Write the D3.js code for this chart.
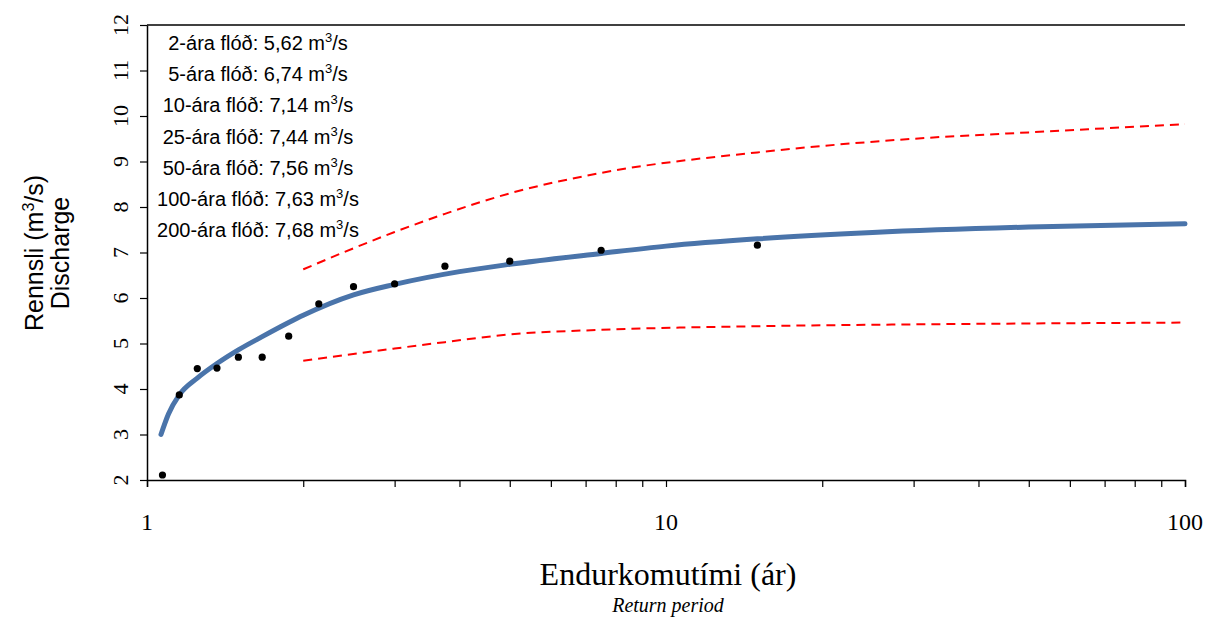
<!DOCTYPE html>
<html><head><meta charset="utf-8">
<script src="https://cdn.jsdelivr.net/npm/d3@7"></script>
<style>body{margin:0;background:#fff}</style>
</head><body><svg id="c" width="1207" height="617"></svg>
<script>
// observed floods: return period (yr) and discharge (m3/s)
const obsT = [1.071, 1.154, 1.25, 1.364, 1.5, 1.667, 1.875, 2.143, 2.5, 3, 3.75, 5, 7.5, 15];
const obsQ = [2.11, 3.87, 4.45, 4.46, 4.70, 4.70, 5.16, 5.87, 6.25, 6.31, 6.70, 6.81, 7.05, 7.16];
// fitted curve
const fitT = [1.064, 1.1, 1.154, 1.25, 1.364, 1.5, 1.667, 1.875, 2, 2.5, 3, 4, 5, 7.5, 10, 15, 25, 50, 100];
const fitQ = [3.0, 3.45, 3.87, 4.24, 4.56, 4.86, 5.15, 5.46, 5.62, 6.07, 6.3, 6.58, 6.74, 6.98, 7.14, 7.3, 7.44, 7.56, 7.63];
// confidence bounds
const bandT = [2, 3, 3.75, 5, 7.5, 15, 30, 50, 100];
const upperQ = [6.63, 7.45, 7.85, 8.3, 8.75, 9.2, 9.5, 9.64, 9.82];
const lowerQ = [4.62, 4.89, 5.03, 5.2, 5.3, 5.38, 5.42, 5.44, 5.46];
const yTicks = [2, 3, 4, 5, 6, 7, 8, 9, 10, 11, 12];
const labels = ["2-ára flóð: 5,62", "5-ára flóð: 6,74", "10-ára flóð: 7,14", "25-ára flóð: 7,44",
  "50-ára flóð: 7,56", "100-ára flóð: 7,63", "200-ára flóð: 7,68"];

const svg = d3.select("#c");
const x = d3.scaleLog().domain([1, 100]).range([147, 1185]);
const y = d3.scaleLinear().domain([2, 12]).range([480, 25]);
const serif = "'Liberation Serif','Times New Roman',serif";
const sans = "'Liberation Sans',Arial,sans-serif";

// x axis
const minor = [];
[1, 10].forEach(b => { for (let i = 1; i < 10; i++) minor.push(b * i); });
minor.push(100);
svg.append("g").attr("transform", "translate(0,480)")
  .call(d3.axisBottom(x).tickValues(minor).tickSize(7).tickFormat(""))
  .call(g => g.select(".domain").attr("stroke-width", 1.5))
  .call(g => g.selectAll(".tick line").attr("stroke-width", 1.2));
svg.append("g").selectAll("text").data([1, 10, 100]).enter().append("text")
  .attr("x", d => x(d)).attr("y", 530).attr("text-anchor", "middle")
  .attr("font-family", serif).attr("font-size", 24).text(d => d);

// y axis
svg.append("g").attr("transform", "translate(147,0)")
  .call(d3.axisLeft(y).tickValues(yTicks).tickSize(7).tickSizeOuter(0).tickFormat(""))
  .call(g => g.select(".domain").attr("stroke-width", 1.5))
  .call(g => g.selectAll(".tick line").attr("stroke-width", 1.2));
svg.append("g").selectAll("text").data(yTicks).enter().append("text")
  .attr("transform", d => `translate(128,${y(d)}) rotate(-90)`)
  .attr("text-anchor", "middle").attr("font-family", serif).attr("font-size", 22)
  .text(d => d);

// top border
svg.append("line").attr("x1", 147).attr("x2", 1185).attr("y1", 25).attr("y2", 25)
  .attr("stroke", "#000").attr("stroke-width", 1.5);

const line = (T, Q) => d3.line().x((d, i) => x(T[i])).y(d => y(d)).curve(d3.curveMonotoneX)(Q);
svg.append("path").attr("d", line(bandT, upperQ)).attr("fill", "none").attr("stroke", "#ff0000")
  .attr("stroke-width", 2).attr("stroke-dasharray", "9,6");
svg.append("path").attr("d", line(bandT, lowerQ)).attr("fill", "none").attr("stroke", "#ff0000")
  .attr("stroke-width", 2).attr("stroke-dasharray", "9,6");
svg.append("path").attr("d", line(fitT, fitQ)).attr("fill", "none").attr("stroke", "#4a74aa")
  .attr("stroke-width", 5).attr("stroke-linecap", "round");

svg.selectAll("circle.o").data(obsQ).enter().append("circle")
  .attr("cx", (d, i) => x(obsT[i])).attr("cy", d => y(d)).attr("r", 3.6).attr("fill", "#000");

// label box
const lt = svg.append("g").attr("font-family", sans).attr("font-size", 20).attr("text-anchor", "middle");
labels.forEach((s, i) => {
  const t = lt.append("text").attr("x", 258).attr("y", 50 + i * 31.2);
  t.append("tspan").text(s + " m");
  t.append("tspan").attr("dy", -8).attr("font-size", 13).text("3");
  t.append("tspan").attr("dy", 8).text("/s");
});

// y title
const yt = svg.append("text").attr("transform", "translate(43,253) rotate(-90)")
  .attr("font-family", sans).attr("font-size", 25).attr("text-anchor", "middle");
yt.append("tspan").text("Rennsli (m");
yt.append("tspan").attr("dy", -9).attr("font-size", 16).text("3");
yt.append("tspan").attr("dy", 9).text("/s)");
svg.append("text").attr("transform", "translate(69,253) rotate(-90)")
  .attr("font-family", sans).attr("font-size", 25).attr("text-anchor", "middle").text("Discharge");

// x title
svg.append("text").attr("x", 668).attr("y", 585).attr("text-anchor", "middle")
  .attr("font-family", serif).attr("font-size", 32).text("Endurkomutími (ár)");
svg.append("text").attr("x", 668).attr("y", 612).attr("text-anchor", "middle")
  .attr("font-family", serif).attr("font-size", 20).attr("font-style", "italic").text("Return period");
</script></body></html>
